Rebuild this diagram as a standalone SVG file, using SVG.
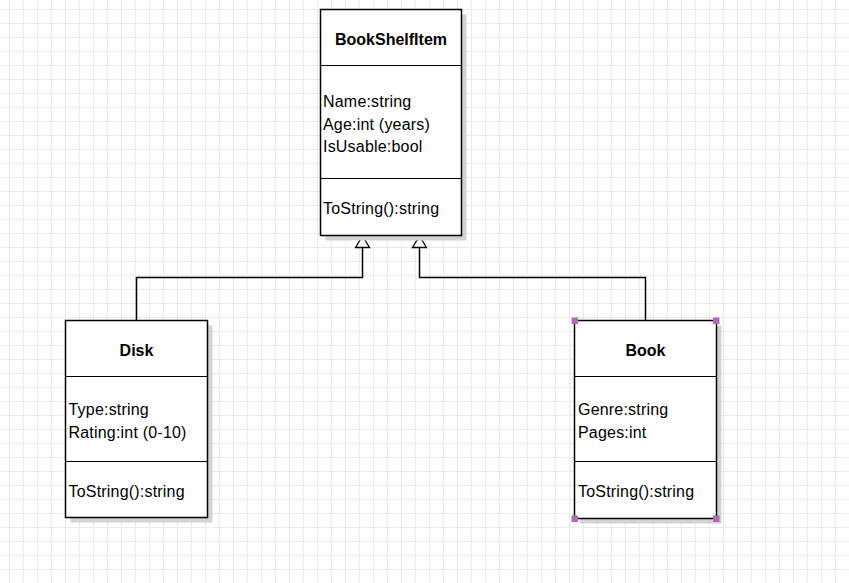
<svg xmlns="http://www.w3.org/2000/svg" width="849" height="583" viewBox="0 0 849 583">
<defs>
<pattern id="grid" x="9" y="9" width="14" height="14" patternUnits="userSpaceOnUse">
<path d="M0.5 0V14M0 0.5H14" fill="none" stroke="#ebebeb" stroke-width="1"/>
</pattern>
</defs>
<style>
.box{fill:#fff;stroke:#000;stroke-width:1.5}
.shadow{fill:#d3d3d3}
.div{stroke:#000;stroke-width:1.2}
.hd{font-family:"Liberation Sans",Arial,sans-serif;font-size:16px;font-weight:bold;text-anchor:middle;fill:#000}
.tx{font-family:"Liberation Sans",Arial,sans-serif;font-size:16px;letter-spacing:0.2px;fill:#000}
.conn{fill:none;stroke:#000;stroke-width:1.5}
.arr{fill:#fff;stroke:#000;stroke-width:1.3}
.h{fill:#b468b8}
</style>
<rect width="849" height="583" fill="#fff"/>
<rect width="849" height="583" fill="url(#grid)"/>

<g id="connectors">
<path class="conn" d="M136.5 320.5V277.5H362.5V247.5"/>
<path class="conn" d="M645.5 320.5V277.5H419.5V247.5"/>
<path class="arr" d="M362.5 236L369.5 247.5H355.5Z"/>
<path class="arr" d="M419.5 236L426.5 247.5H412.5Z"/>
</g>

<g id="BookShelfItem">
<rect class="shadow" x="325.5" y="14.5" width="141" height="226"/>
<rect class="box" x="320.5" y="9.5" width="141" height="226"/>
<line class="div" x1="320.5" y1="65.5" x2="461.5" y2="65.5"/>
<line class="div" x1="320.5" y1="178.5" x2="461.5" y2="178.5"/>
<text class="hd" x="391" y="45">BookShelfItem</text>
<text class="tx" x="323" y="107">Name:string</text>
<text class="tx" x="323" y="129.5">Age:int (years)</text>
<text class="tx" x="323" y="152">IsUsable:bool</text>
<text class="tx" x="323" y="214">ToString():string</text>
</g>

<g id="Disk">
<rect class="shadow" x="70.5" y="325.5" width="142" height="197"/>
<rect class="box" x="65.5" y="320.5" width="142" height="197"/>
<line class="div" x1="65.5" y1="376.5" x2="207.5" y2="376.5"/>
<line class="div" x1="65.5" y1="461.5" x2="207.5" y2="461.5"/>
<text class="hd" x="136.5" y="356">Disk</text>
<text class="tx" x="68.5" y="415">Type:string</text>
<text class="tx" x="68.5" y="437.5">Rating:int (0-10)</text>
<text class="tx" x="68.5" y="497">ToString():string</text>
</g>

<g id="Book">
<rect class="shadow" x="579.5" y="325.5" width="142" height="198"/>
<rect class="box" x="574.5" y="320.5" width="142" height="198"/>
<line class="div" x1="574.5" y1="376.5" x2="716.5" y2="376.5"/>
<line class="div" x1="574.5" y1="461.5" x2="716.5" y2="461.5"/>
<text class="hd" x="645.5" y="356">Book</text>
<text class="tx" x="578" y="415">Genre:string</text>
<text class="tx" x="578" y="437.5">Pages:int</text>
<text class="tx" x="578" y="497">ToString():string</text>
<rect class="h" x="571.5" y="317.5" width="6.5" height="6.5"/>
<rect class="h" x="713" y="317.5" width="6.5" height="6.5"/>
<rect class="h" x="571.5" y="515.5" width="6.5" height="6.5"/>
<rect class="h" x="713" y="515.5" width="6.5" height="6.5"/>
</g>
</svg>
